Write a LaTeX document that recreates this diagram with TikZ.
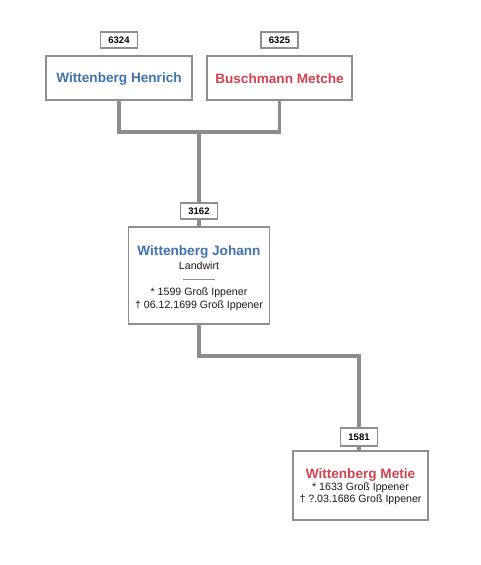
\documentclass[tikz,border=0pt]{standalone}
\usepackage{fontspec}
\setmainfont{Liberation Sans}
\definecolor{nblue}{HTML}{3F72AE}
\definecolor{nred}{HTML}{D2434F}
\definecolor{lgray}{HTML}{8C8C8C}
\definecolor{bgray}{HTML}{8E8E8E}
\begin{document}
\begin{tikzpicture}[x=1pt,y=-1pt,
  person/.style={draw=bgray,line width=1.4pt,fill=white,rectangle,inner sep=0pt},
  numbox/.style={draw=bgray,line width=1.4pt,fill=white,rectangle,inner sep=0pt,minimum width=37pt,minimum height=16pt,font=\bfseries\fontsize{9.5}{10}\selectfont},
  link/.style={draw=lgray,line width=3.5pt},
  pname/.style={font=\bfseries\fontsize{13.6}{15}\selectfont},
  info/.style={font=\fontsize{10.6}{12}\selectfont,text=black!90}]
\fill[white] (0,0) rectangle (481,565);
\useasboundingbox (0,0) rectangle (481,565);
% nodes
\node[person,minimum width=146pt,minimum height=44pt] (henrich) at (119,78) {};
\node[person,minimum width=145pt,minimum height=44pt] (metche) at (279.5,78) {};
\node[numbox] (n6324) at (119,40) {6324};
\node[numbox] (n6325) at (279.5,40) {6325};
\node[numbox] (n3162) at (199,211) {3162};
\node[person,minimum width=141pt,minimum height=97pt] (johann) at (199,275.5) {};
\node[numbox,minimum height=18pt] (n1581) at (359,437) {1581};
\node[person,minimum width=135pt,minimum height=69pt] (metie) at (360.5,485.5) {};
% connectors
\coordinate (j1) at (199,132);
\coordinate (j2) at (199,356);
\draw[link] (henrich.south) |- (j1) -| (metche.south);
\draw[link] (j1) -- (n3162.north);
\draw[link] (n3162.south) -- (johann.north);
\draw[link] (johann.south) |- (j2) -| (n1581.north);
\draw[link] (n1581.south) -- (n1581.south |- metie.north);
% redraw boxes over connector ends
\node[person,minimum width=146pt,minimum height=44pt] at (henrich) {};
\node[person,minimum width=145pt,minimum height=44pt] at (metche) {};
\node[person,minimum width=141pt,minimum height=97pt] at (johann) {};
\node[person,minimum width=135pt,minimum height=69pt] at (metie) {};
\node[numbox] at (n3162) {3162};
\node[numbox,minimum height=18pt] at (n1581) {1581};
% texts
\node[pname,text=nblue] (tHenrich) at (119,79) {Wittenberg Henrich};
\node[pname,text=nred] (tMetche) at (279.5,79) {Buschmann Metche};
\node[pname,text=nblue] (tJohann) at (199,252) {Wittenberg Johann};
\node[info] (tLand) at (199,266) {Landwirt};
\coordinate (s1) at (183,279);
\coordinate (s2) at (215,279);
\draw[bgray,line width=0.5pt] (s1) -- (s2);
\node[info] (tJb) at (199,293) {* 1599 Groß Ippener};
\node[info] (tJd) at (199,306) {† 06.12.1699 Groß Ippener};
\node[pname,text=nred] (tMetie) at (360.5,475) {Wittenberg Metie};
\node[info] (tMb) at (360.5,487.5) {* 1633 Groß Ippener};
\node[info] (tMd) at (360.5,499.5) {† ?.03.1686 Groß Ippener};
\end{tikzpicture}
\end{document}
